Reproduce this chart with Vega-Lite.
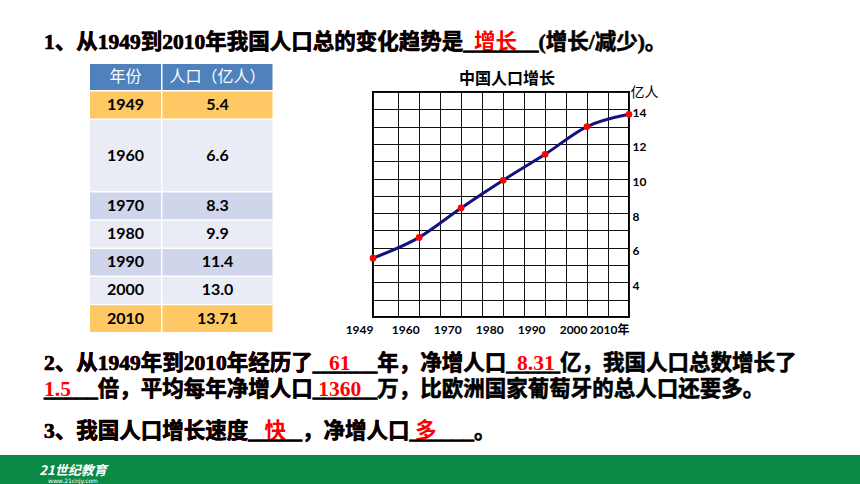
{
  "$schema": "https://vega.github.io/schema/vega-lite/v6.json",
  "padding": 0,
  "background": "white",
  "spacing": 0,
  "config": {
    "view": {"stroke": null},
    "concat": {"spacing": 0}
  },
  "datasets": {
    "population": [
      {"year": 1949, "pop": 5.4, "popText": "5.4"},
      {"year": 1960, "pop": 6.6, "popText": "6.6"},
      {"year": 1970, "pop": 8.3, "popText": "8.3"},
      {"year": 1980, "pop": 9.9, "popText": "9.9"},
      {"year": 1990, "pop": 11.4, "popText": "11.4"},
      {"year": 2000, "pop": 13.0, "popText": "13.0"},
      {"year": 2010, "pop": 13.71, "popText": "13.71"}
    ],
    "header": [
      {"col": "year", "label": "年份"},
      {"col": "pop", "label": "人口（亿人）"}
    ],
    "questions": [
      {"line": "q1", "role": "answer", "text": "1、从1949到2010年我国人口总的变化趋势是\u00a0\u00a0增长"},
      {"line": "q1", "role": "question", "text": "1、从1949到2010年我国人口总的变化趋势是_______(增长/减少)。"},
      {"line": "q2a", "role": "answer", "text": "2、从1949年到2010年经历了\u00a0\u00a0\u00a061"},
      {"line": "q2a", "role": "answer", "text": "2、从1949年到2010年经历了______年，净增人口\u00a0\u00a08.31"},
      {"line": "q2a", "role": "question", "text": "2、从1949年到2010年经历了______年，净增人口_____亿，我国人口总数增长了"},
      {"line": "q2b", "role": "answer", "text": "\u00a01.5"},
      {"line": "q2b", "role": "answer", "text": "_____倍，平均每年净增人口\u00a01360"},
      {"line": "q2b", "role": "question", "text": "_____倍，平均每年净增人口______万，比欧洲国家葡萄牙的总人口还要多。"},
      {"line": "q3", "role": "answer", "text": "3、我国人口增长速度\u00a0\u00a0\u00a0快"},
      {"line": "q3", "role": "answer", "text": "3、我国人口增长速度_____，净增人口\u00a0多"},
      {"line": "q3", "role": "question", "text": "3、我国人口增长速度_____，净增人口______。"}
    ],
    "logo": [
      {"part": "name", "text": "21世纪教育"},
      {"part": "url", "text": "www.21cnjy.com"}
    ]
  },
  "vconcat": [
    {
      "width": 88, "height": 64,
      "data": {"name": "questions"},
      "transform": [{"filter": "datum.line == 'q1'"}],
      "mark": {"type": "text", "align": "left", "baseline": "top", "font": "Liberation Serif, Noto Sans CJK SC", "fontSize": 21.5, "fontWeight": "bold"},
      "encoding": {
        "text": {"field": "text"},
        "color": {"field": "role", "type": "nominal", "scale": {"domain": ["answer", "question"], "range": ["#ff0000", "#000000"]}, "legend": null},
        "stroke": {"field": "role", "type": "nominal", "scale": {"domain": ["answer", "question"], "range": ["#ff0000", "#000000"]}, "legend": null},
        "strokeWidth": {"field": "role", "type": "ordinal", "scale": {"domain": ["answer", "question"], "range": [0, 0.6]}, "legend": null}
      }
    },
    {
      "hconcat": [
        {"width": 90, "height": 1, "data": {"values": []}, "mark": "point"},
        {
          "hconcat": [
            {
              "vconcat": [
                {
                  "width": 71, "height": 26,
                  "data": {"name": "header"},
                  "transform": [{"filter": "datum.col == 'year'"}],
                  "layer": [
                    {"mark": {"type": "rect", "fill": "#4F81BD"}},
                    {"mark": {"type": "text", "color": "white", "font": "Noto Sans CJK SC", "fontSize": 16}, "encoding": {"text": {"field": "label"}}}
                  ]
                },
                {
                  "width": 71, "height": 27,
                  "data": {"name": "population"},
                  "transform": [{"filter": "datum.year == 1949"}],
                  "layer": [
                    {"mark": {"type": "rect"}, "encoding": {"fill": {"field": "year", "type": "ordinal", "scale": {"domain": [1949, 1960, 1970, 1980, 1990, 2000, 2010], "range": ["#FEC864", "#E9EBF5", "#CFD5EA", "#E9EBF5", "#CFD5EA", "#E9EBF5", "#FEC864"]}, "legend": null}}},
                    {"mark": {"type": "text", "color": "black", "font": "Lato", "fontSize": 16, "fontWeight": "bold"}, "encoding": {"text": {"field": "year", "type": "ordinal"}}}
                  ]
                },
                {
                  "width": 71, "height": 71,
                  "data": {"name": "population"},
                  "transform": [{"filter": "datum.year == 1960"}],
                  "layer": [
                    {"mark": {"type": "rect"}, "encoding": {"fill": {"field": "year", "type": "ordinal", "scale": {"domain": [1949, 1960, 1970, 1980, 1990, 2000, 2010], "range": ["#FEC864", "#E9EBF5", "#CFD5EA", "#E9EBF5", "#CFD5EA", "#E9EBF5", "#FEC864"]}, "legend": null}}},
                    {"mark": {"type": "text", "color": "black", "font": "Lato", "fontSize": 16, "fontWeight": "bold"}, "encoding": {"text": {"field": "year", "type": "ordinal"}}}
                  ]
                },
                {
                  "width": 71, "height": 139.5,
                  "data": {"name": "population"},
                  "transform": [{"filter": "datum.year >= 1970"}],
                  "encoding": {"y": {"field": "year", "type": "ordinal", "axis": null, "scale": {"paddingInner": 0.054, "paddingOuter": 0}}},
                  "layer": [
                    {"mark": {"type": "rect"}, "encoding": {"fill": {"field": "year", "type": "ordinal", "scale": {"domain": [1949, 1960, 1970, 1980, 1990, 2000, 2010], "range": ["#FEC864", "#E9EBF5", "#CFD5EA", "#E9EBF5", "#CFD5EA", "#E9EBF5", "#FEC864"]}, "legend": null}}},
                    {"mark": {"type": "text", "color": "black", "font": "Lato", "fontSize": 16, "fontWeight": "bold"}, "encoding": {"text": {"field": "year", "type": "ordinal"}}}
                  ]
                }
              ],
              "spacing": 1.5
            },
            {
              "vconcat": [
                {
                  "width": 110, "height": 26,
                  "data": {"name": "header"},
                  "transform": [{"filter": "datum.col == 'pop'"}],
                  "layer": [
                    {"mark": {"type": "rect", "fill": "#4F81BD"}},
                    {"mark": {"type": "text", "color": "white", "font": "Noto Sans CJK SC", "fontSize": 16}, "encoding": {"text": {"field": "label"}}}
                  ]
                },
                {
                  "width": 110, "height": 27,
                  "data": {"name": "population"},
                  "transform": [{"filter": "datum.year == 1949"}],
                  "layer": [
                    {"mark": {"type": "rect"}, "encoding": {"fill": {"field": "year", "type": "ordinal", "scale": {"domain": [1949, 1960, 1970, 1980, 1990, 2000, 2010], "range": ["#FEC864", "#E9EBF5", "#CFD5EA", "#E9EBF5", "#CFD5EA", "#E9EBF5", "#FEC864"]}, "legend": null}}},
                    {"mark": {"type": "text", "color": "black", "font": "Lato", "fontSize": 16, "fontWeight": "bold"}, "encoding": {"text": {"field": "popText"}}}
                  ]
                },
                {
                  "width": 110, "height": 71,
                  "data": {"name": "population"},
                  "transform": [{"filter": "datum.year == 1960"}],
                  "layer": [
                    {"mark": {"type": "rect"}, "encoding": {"fill": {"field": "year", "type": "ordinal", "scale": {"domain": [1949, 1960, 1970, 1980, 1990, 2000, 2010], "range": ["#FEC864", "#E9EBF5", "#CFD5EA", "#E9EBF5", "#CFD5EA", "#E9EBF5", "#FEC864"]}, "legend": null}}},
                    {"mark": {"type": "text", "color": "black", "font": "Lato", "fontSize": 16, "fontWeight": "bold"}, "encoding": {"text": {"field": "popText"}}}
                  ]
                },
                {
                  "width": 110, "height": 139.5,
                  "data": {"name": "population"},
                  "transform": [{"filter": "datum.year >= 1970"}],
                  "encoding": {"y": {"field": "year", "type": "ordinal", "axis": null, "scale": {"paddingInner": 0.054, "paddingOuter": 0}}},
                  "layer": [
                    {"mark": {"type": "rect"}, "encoding": {"fill": {"field": "year", "type": "ordinal", "scale": {"domain": [1949, 1960, 1970, 1980, 1990, 2000, 2010], "range": ["#FEC864", "#E9EBF5", "#CFD5EA", "#E9EBF5", "#CFD5EA", "#E9EBF5", "#FEC864"]}, "legend": null}}},
                    {"mark": {"type": "text", "color": "black", "font": "Lato", "fontSize": 16, "fontWeight": "bold"}, "encoding": {"text": {"field": "popText"}}}
                  ]
                }
              ],
              "spacing": 1.5
            }
          ],
          "spacing": 1.5
        },
        {"width": 70.5, "height": 1, "data": {"values": []}, "mark": "point"},
        {
          "vconcat": [
            {"width": 256, "height": 6, "data": {"values": []}, "mark": "point"},
            {
              "width": 256, "height": 225,
              "data": {"name": "population"},
              "title": {"text": "中国人口增长", "font": "Noto Sans CJK SC", "fontSize": 16, "fontWeight": "bold", "color": "black", "offset": -2, "dx": 6},
              "view": {"stroke": "black", "strokeWidth": 2},
              "encoding": {
                "x": {
                  "field": "year", "type": "quantitative",
                  "scale": {"domain": [1949, 2010], "nice": false, "zero": false},
                  "axis": {
                    "values": [1949, 1955, 1960, 1965, 1970, 1975, 1980, 1985, 1990, 1995, 2000, 2005, 2010],
                    "format": "d",
                    "labelExpr": "datum.value % 10 == 5 ? '' : (datum.value == 2010 ? '2010年' : datum.label)",
                    "grid": true, "gridColor": "#111111", "gridWidth": 1, "gridOpacity": 1,
                    "ticks": false, "domain": false, "title": null,
                    "labelAlign": "right", "labelPadding": 7, "labelFlush": false, "labelOverlap": false,
                    "labelFont": "Lato, Noto Sans CJK SC", "labelFontSize": 12, "labelFontWeight": "bold", "labelColor": "black"
                  }
                },
                "y": {
                  "field": "pop", "type": "quantitative",
                  "scale": {"domain": [2, 15], "nice": false, "zero": false},
                  "axis": {
                    "orient": "right",
                    "values": [2, 3, 4, 5, 6, 7, 8, 9, 10, 11, 12, 13, 14, 15],
                    "labelExpr": "datum.value % 2 == 0 && datum.value >= 4 && datum.value <= 14 ? datum.label : ''",
                    "grid": true, "gridColor": "#111111", "gridWidth": 1, "gridOpacity": 1,
                    "ticks": false, "domain": false,
                    "labelPadding": 3, "labelOffset": 3, "labelBaseline": "middle", "labelAlign": "left", "labelOverlap": false, "labelFlush": false,
                    "labelFont": "Lato", "labelFontSize": 12, "labelFontWeight": "bold", "labelColor": "black",
                    "title": "亿人", "titleAngle": 0, "titleX": 1, "titleY": 0, "titleAlign": "left", "titleBaseline": "middle",
                    "titleFont": "Noto Sans CJK SC", "titleFontSize": 14, "titleFontWeight": "normal", "titleColor": "black"
                  }
                }
              },
              "layer": [
                {"mark": {"type": "line", "interpolate": "monotone", "color": "#12127F", "strokeWidth": 3}},
                {"mark": {"type": "point", "filled": true, "color": "#FF0000", "size": 45, "opacity": 1}}
              ]
            }
          ],
          "spacing": 0
        }
      ],
      "spacing": 0
    },
    {
      "width": 88, "height": 33,
      "data": {"name": "questions"},
      "transform": [{"filter": "datum.line == 'q2a'"}],
      "mark": {"type": "text", "align": "left", "baseline": "top", "font": "Liberation Serif, Noto Sans CJK SC", "fontSize": 21.5, "fontWeight": "bold"},
      "encoding": {
        "text": {"field": "text"},
        "color": {"field": "role", "type": "nominal", "scale": {"domain": ["answer", "question"], "range": ["#ff0000", "#000000"]}, "legend": null},
        "stroke": {"field": "role", "type": "nominal", "scale": {"domain": ["answer", "question"], "range": ["#ff0000", "#000000"]}, "legend": null},
        "strokeWidth": {"field": "role", "type": "ordinal", "scale": {"domain": ["answer", "question"], "range": [0, 0.6]}, "legend": null}
      }
    },
    {
      "width": 88, "height": 10,
      "data": {"name": "questions"},
      "transform": [{"filter": "datum.line == 'q2b'"}],
      "mark": {"type": "text", "align": "left", "baseline": "top", "font": "Liberation Serif, Noto Sans CJK SC", "fontSize": 21.5, "fontWeight": "bold"},
      "encoding": {
        "text": {"field": "text"},
        "color": {"field": "role", "type": "nominal", "scale": {"domain": ["answer", "question"], "range": ["#ff0000", "#000000"]}, "legend": null},
        "stroke": {"field": "role", "type": "nominal", "scale": {"domain": ["answer", "question"], "range": ["#ff0000", "#000000"]}, "legend": null},
        "strokeWidth": {"field": "role", "type": "ordinal", "scale": {"domain": ["answer", "question"], "range": [0, 0.6]}, "legend": null}
      }
    },
    {
      "width": 88, "height": 39,
      "data": {"name": "questions"},
      "transform": [{"filter": "datum.line == 'q3'"}],
      "mark": {"type": "text", "align": "left", "baseline": "top", "font": "Liberation Serif, Noto Sans CJK SC", "fontSize": 21.5, "fontWeight": "bold"},
      "encoding": {
        "text": {"field": "text"},
        "color": {"field": "role", "type": "nominal", "scale": {"domain": ["answer", "question"], "range": ["#ff0000", "#000000"]}, "legend": null},
        "stroke": {"field": "role", "type": "nominal", "scale": {"domain": ["answer", "question"], "range": ["#ff0000", "#000000"]}, "legend": null},
        "strokeWidth": {"field": "role", "type": "ordinal", "scale": {"domain": ["answer", "question"], "range": [0, 0.6]}, "legend": null}
      }
    },
    {"width": 1, "height": 12.5, "data": {"values": []}, "mark": "point"},
    {
      "hconcat": [
        {
          "width": 146, "height": 31,
          "data": {"name": "logo"},
          "view": {"fill": "#0B8A46"},
          "layer": [
            {
              "transform": [{"filter": "datum.part == 'name'"}],
              "mark": {"type": "text", "color": "white", "font": "Noto Sans CJK SC", "fontSize": 13, "fontWeight": "bold", "fontStyle": "italic", "baseline": "middle"},
              "encoding": {"text": {"field": "text"}}
            },
            {
              "transform": [{"filter": "datum.part == 'url'"}],
              "mark": {"type": "text", "color": "white", "font": "DejaVu Sans", "fontSize": 6, "baseline": "middle", "dy": 10},
              "encoding": {"text": {"field": "text"}}
            }
          ]
        },
        {"width": 714, "height": 31, "data": {"values": []}, "mark": "point", "view": {"fill": "#0B8A46"}}
      ],
      "spacing": 0
    }
  ]
}
